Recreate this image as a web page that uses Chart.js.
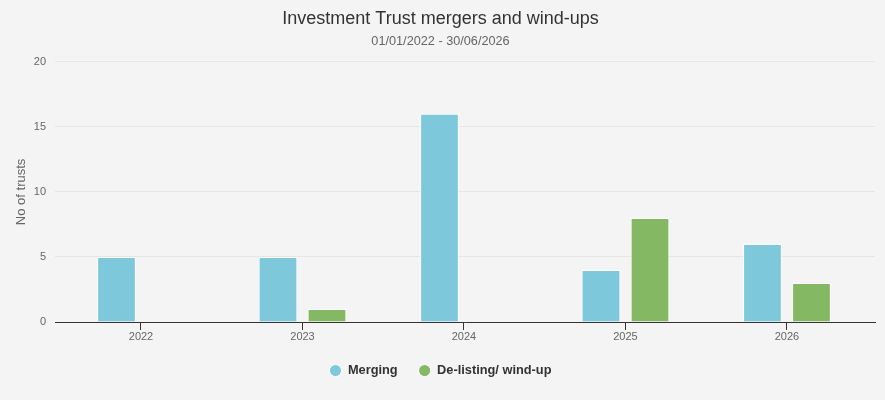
<!DOCTYPE html>
<html><head><meta charset="utf-8">
<script src="https://cdn.jsdelivr.net/npm/chart.js@4"></script>
<style>html,body{margin:0;padding:0;background:#f4f4f4;}#wrap{width:885px;height:400px;}</style>
</head><body><div id="wrap"><canvas id="c"></canvas></div>
<script>
const years = ['2022','2023','2024','2025','2026'];
const merging = [5,5,16,4,6];
const delisting = [0,1,0,8,3];
const yTicks = [0,5,10,15,20];
const seriesNames = ['Merging','De-listing/ wind-up'];
const colors = ['#7ec8dc','#85b862'];

const bgPlugin = {id:'bg',beforeDraw(ch){const c=ch.ctx;c.save();c.fillStyle='#f4f4f4';c.fillRect(0,0,ch.width,ch.height);c.restore();}};
const F = "'Liberation Sans', Arial, Helvetica, sans-serif";
new Chart(document.getElementById('c'),{
  type:'bar',
  data:{datasets:[
    {label:seriesNames[0],data:merging.map((v,i)=>({x:i,y:v})),backgroundColor:colors[0],borderColor:'#ffffff',borderWidth:1,borderSkipped:'bottom'},
    {label:seriesNames[1],data:delisting.map((v,i)=>({x:i,y:v})),backgroundColor:colors[1],borderColor:'#ffffff',borderWidth:1,borderSkipped:'bottom'}
  ]},
  options:{
    responsive:true,maintainAspectRatio:false,animation:false,
    categoryPercentage:0.607,barPercentage:0.79,
    layout:{padding:{left:6,right:10,bottom:13}},
    plugins:{
      tooltip:{enabled:false},
      title:{display:true,text:'Investment Trust mergers and wind-ups',color:'#333333',font:{family:F,size:18,weight:'normal'},padding:{top:8,bottom:4}},
      subtitle:{display:true,text:'01/01/2022 - 30/06/2026',color:'#666666',font:{family:F,size:12.7,weight:'normal'},padding:{top:0,bottom:13}},
      legend:{position:'bottom',labels:{usePointStyle:true,pointStyle:'circle',boxWidth:12,boxHeight:8.5,padding:21,color:'#333333',font:{family:F,size:12.8,weight:'bold'}}}
    },
    scales:{
      x:{type:'linear',min:-0.5325,max:4.545,offset:false,
        grid:{display:true,offset:false,drawOnChartArea:false,drawTicks:true,tickLength:8,color:'#333333'},
        border:{display:true,color:'#333333',width:1},
        ticks:{stepSize:1,includeBounds:false,color:'#666666',font:{family:F,size:11},padding:0,autoSkip:false,maxRotation:0,
          callback:(v)=>years[v]!==undefined && Number.isInteger(v)?years[v]:''}
      },
      y:{min:0,max:20,
        afterBuildTicks:(s)=>{s.ticks=yTicks.map(v=>({value:v}));},
        afterFit:(s)=>{s.width=49;},
        grid:{color:'#e6e6e6',drawTicks:false},
        border:{display:false},
        ticks:{color:'#666666',font:{family:F,size:11},padding:9},
        title:{display:true,text:'No of trusts',color:'#666666',font:{family:F,size:13},padding:{top:8,bottom:0}}
      }
    }
  },
  plugins:[bgPlugin]
});
</script></body></html>
